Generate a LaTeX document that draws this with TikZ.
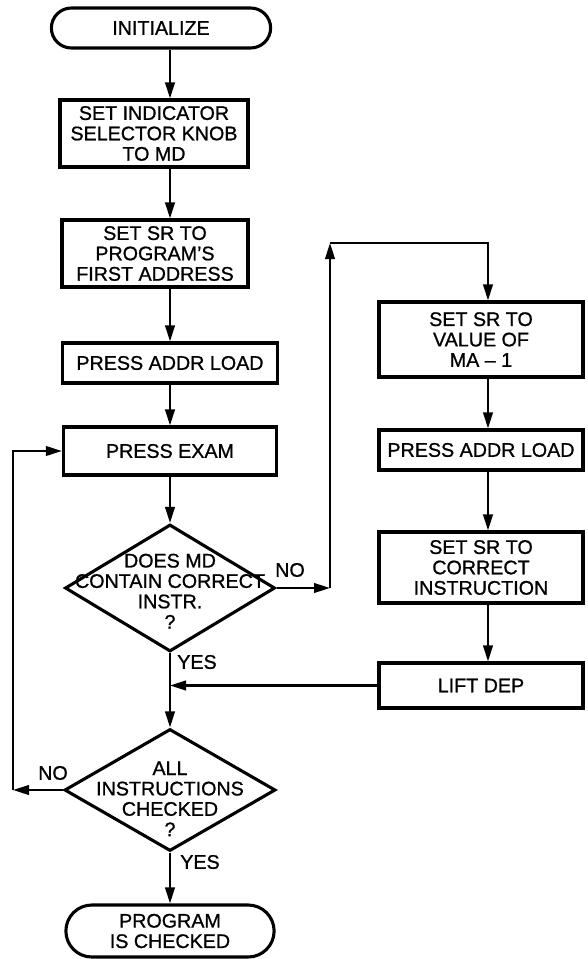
\documentclass[tikz,border=0pt]{standalone}
\usepackage{fontspec}
\setmainfont{Liberation Sans}
\newfontfamily\leroy[Ligatures=TeX, BoldFont={Liberation Sans}, BoldFeatures={FakeBold=0.9}]{Liberation Sans}
\usetikzlibrary{positioning, arrows.meta, calc, shapes.geometric, shapes.misc}

\begin{document}
\begin{tikzpicture}[x=0.025cm, y=-0.025cm,
        txt/.style={font=\leroy\bfseries\fontsize{14}{14.5}\selectfont, align=center},
        procbox/.style={txt, draw, line width=2.2pt, inner sep=1pt},
        termbox/.style={txt, draw, rounded rectangle, line width=2.2pt, inner sep=1pt},
        decbox/.style={draw, diamond, line width=2.2pt, inner sep=0pt},
        lbl/.style={txt, inner sep=0pt},
        arr/.style={-{Triangle[length=4mm, width=2.4mm]}, line width=1.5pt}
    ]
    \useasboundingbox (0,0) rectangle (587,959);

    \coordinate (laxis) at (170,0);
    \coordinate (raxis) at (488,0);

    % main column
    \node[termbox, minimum width=5.55cm, minimum height=1.0cm] (init) at (161,28) {INITIALIZE};
    \node[procbox, minimum width=4.7cm, minimum height=1.675cm] (knob) at (154,133.5)
        {SET INDICATOR\\SELECTOR KNOB\\TO MD};
    \node[procbox, minimum width=4.65cm, minimum height=1.675cm] (first) at (155,253.5)
        {SET SR TO\\PROGRAM'S\\FIRST ADDRESS};
    \node[procbox, minimum width=5.375cm, minimum height=1.0cm] (load) at (170,363)
        {PRESS ADDR LOAD};
    \node[procbox, minimum width=5.33cm, minimum height=1.2cm] (exam) at (170,451)
        {PRESS EXAM};
    \node[decbox, minimum width=5.25cm, minimum height=3.175cm,
          label={[lbl, yshift=-0.08cm]center:DOES MD\\CONTAIN CORRECT\\INSTR.\\?}] (instr) at (170,588) {};
    \node[decbox, minimum width=5.275cm, minimum height=3.05cm,
          label={[lbl, yshift=-0.22cm]center:ALL\\INSTRUCTIONS\\CHECKED\\?}] (allchk) at (170,790) {};
    \node[termbox, minimum width=5.275cm, minimum height=1.3cm] (done) at (170,931)
        {PROGRAM\\IS CHECKED};

    % correction column
    \node[procbox, minimum width=5.1cm, minimum height=1.875cm] (mavalue) at (481,339.5)
        {SET SR TO\\VALUE OF\\MA – 1};
    \node[procbox, minimum width=5.1cm, minimum height=1.0cm] (reload) at (481,450)
        {PRESS ADDR LOAD};
    \node[procbox, minimum width=5.1cm, minimum height=1.775cm] (fix) at (481,567.5)
        {SET SR TO\\CORRECT\\INSTRUCTION};
    \node[procbox, minimum width=5.1cm, minimum height=1.125cm] (dep) at (481,685.5)
        {LIFT DEP};

    % branch labels
    \node[lbl] (no1) at (290,570) {NO};
    \node[lbl] (yes1) at (197,662) {YES};
    \node[lbl] (no2) at (53,773) {NO};
    \node[lbl] (yes2) at (200,862) {YES};

    \coordinate (noturn) at (330,588);
    \coordinate (notop) at (330,243);
    \coordinate (merge) at (instr.south |- dep.west);
    \coordinate (loopbot) at (13,790);

    \draw[arr] (init.south -| laxis) -- (knob.north -| laxis);
    \draw[arr] (knob.south -| laxis) -- (first.north -| laxis);
    \draw[arr] (first.south -| laxis) -- (load.north);
    \draw[arr] (load.south) -- (exam.north);
    \draw[arr] (exam.south) -- (instr.north);
    \draw[arr] (instr.south) -- (allchk.north);
    \draw[arr] (allchk.south) -- (done.north);

    \draw[arr] (instr.east) -- (noturn);
    \draw[arr] (noturn) -- (notop);
    \draw[arr] (notop) -| (mavalue.north -| raxis);
    \draw[arr] (mavalue.south -| raxis) -- (reload.north -| raxis);
    \draw[arr] (reload.south -| raxis) -- (fix.north -| raxis);
    \draw[arr] (fix.south -| raxis) -- (dep.north -| raxis);
    \draw[arr] (dep.west) -- (merge);

    \draw[arr] (allchk.west) -- (loopbot);
    \draw[arr] (loopbot) |- (exam.west);

\end{tikzpicture}
\end{document}
